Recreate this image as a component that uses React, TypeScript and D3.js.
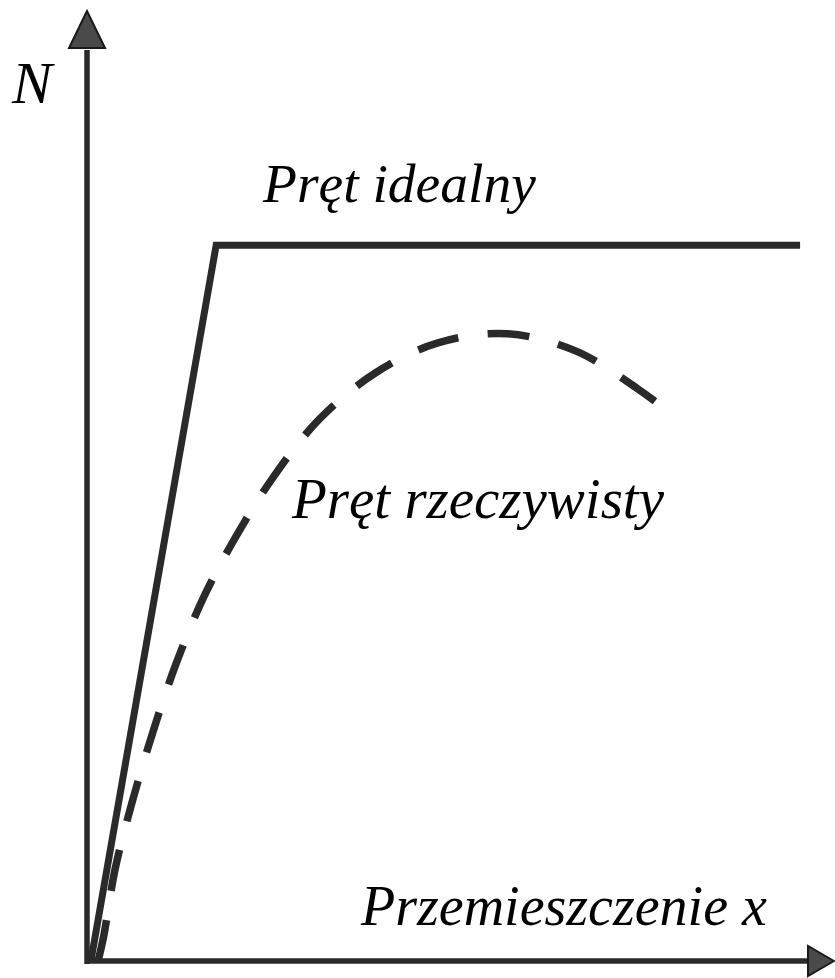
import React, { useLayoutEffect, useRef, useState } from "react";
import * as d3 from "d3";

// Idealized (solid) bar: load N vs displacement x
const idealX = [0.4, 17.8, 98.9];
const idealN = [0, 78.4, 78.4];

// Real (dashed) bar curve
const realX = [1.4, 2.15, 3.8, 6.2, 9.1, 12.3, 16.1, 20.7, 26.0, 32.2, 39.9, 48.6, 58.2, 67.8, 76.3, 78.75];
const realN = [0, 2.6, 10.2, 17.6, 25.3, 32.7, 39.9, 46.7, 53.3, 59.4, 64.4, 67.7, 68.7, 66.8, 62.7, 61.3];

const labels = {
  yAxis: "N",
  xAxis: "Przemieszczenie x",
  ideal: "Pręt idealny",
  real: "Pręt rzeczywisty",
};

const W = 835;
const H = 978;

export default function App() {
  const x = d3.scaleLinear().domain([0, 100]).range([88, 808]);
  const y = d3.scaleLinear().domain([0, 100]).range([961, 48]);

  const line = d3
    .line<[number, number]>()
    .x((d) => x(d[0]))
    .y((d) => y(d[1]));
  const curve = d3
    .line<[number, number]>()
    .x((d) => x(d[0]))
    .y((d) => y(d[1]))
    .curve(d3.curveCatmullRom.alpha(0.5));

  const idealPts: [number, number][] = idealX.map((v, i) => [v, idealN[i]]);
  const realPts: [number, number][] = realX.map((v, i) => [v, realN[i]]);

  const dashRef = useRef<SVGPathElement>(null);
  const [dash, setDash] = useState("41 29");
  useLayoutEffect(() => {
    const el = dashRef.current;
    if (!el) return;
    const L = el.getTotalLength();
    const d = 41, g = 29;
    const n = Math.max(1, Math.round((L - d) / (d + g)));
    const p = L / (n + d / (d + g));
    setDash(`${(p * d) / (d + g)} ${(p * g) / (d + g)}`);
  }, []);

  const ox = x(0) - 1;
  const oy = y(0);
  const font = "'Liberation Serif', 'Times New Roman', serif";
  const lineColor = "#2a2a2a";

  return (
    <svg
      width={W}
      height={H}
      style={{ position: "absolute", left: 0, top: 0, background: "#fff" }}
    >
      {/* axes */}
      <line x1={ox} y1={y(100) + 2} x2={ox} y2={oy + 3} stroke={lineColor} strokeWidth={5.5} />
      <line x1={ox - 2} y1={oy} x2={x(100) + 2} y2={oy} stroke={lineColor} strokeWidth={5.5} />
      <polygon
        points={`${ox},11 ${ox - 18},${y(100)} ${ox + 18},${y(100)}`}
        fill="#4a4a4a"
        stroke="#1a1a1a"
        strokeWidth={2}
      />
      <polygon
        points={`834,${oy} ${x(100)},${oy - 15} ${x(100)},${oy + 15}`}
        fill="#4a4a4a"
        stroke="#1a1a1a"
        strokeWidth={2}
      />

      {/* ideal */}
      <path
        d={line(idealPts) || ""}
        fill="none"
        stroke={lineColor}
        strokeWidth={7}
        strokeLinejoin="miter"
      />
      {/* real */}
      <path
        ref={dashRef}
        d={curve(realPts) || ""}
        fill="none"
        stroke={lineColor}
        strokeWidth={7.5}
        strokeDasharray={dash}
      />

      {/* labels */}
      <text x={12} y={103} fontFamily={font} fontStyle="italic" fontSize={60} fill="#000">
        {labels.yAxis}
      </text>
      <text x={263} y={202} fontFamily={font} fontStyle="italic" fontSize={55.5} fill="#000">
        {labels.ideal}
      </text>
      <text x={292} y={518} fontFamily={font} fontStyle="italic" fontSize={57} fill="#000">
        {labels.real}
      </text>
      <text x={361} y={925} fontFamily={font} fontStyle="italic" fontSize={56} fill="#000">
        {labels.xAxis}
      </text>
    </svg>
  );
}
